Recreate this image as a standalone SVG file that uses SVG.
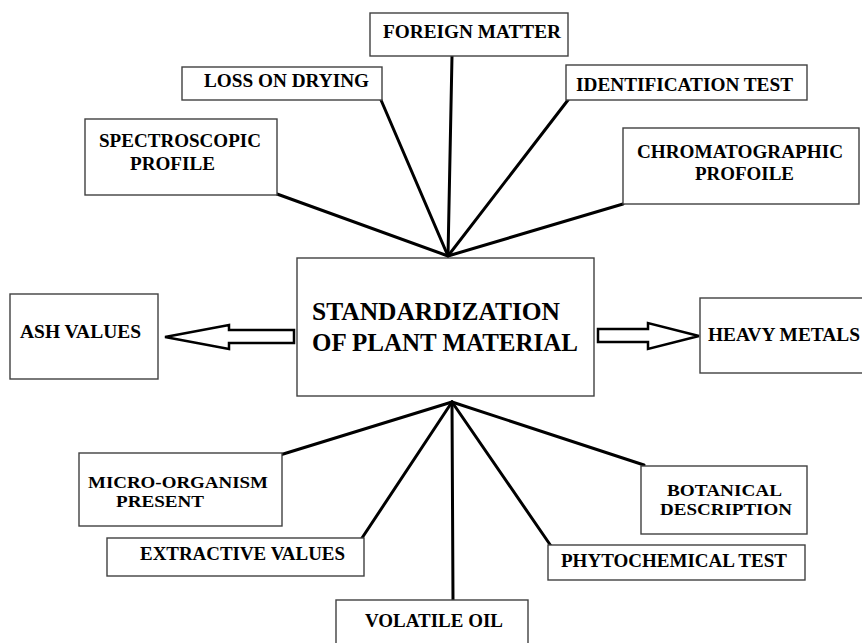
<svg xmlns="http://www.w3.org/2000/svg" width="862" height="643" viewBox="0 0 862 643">
<style>
.box{fill:#fff;stroke:#404040;stroke-width:1.4}
.t{font-family:"Liberation Serif","Times New Roman",serif;font-weight:bold;font-size:18.5px;fill:#000}
.s{font-size:17px}
.c{font-family:"Liberation Serif","Times New Roman",serif;font-weight:bold;font-size:25px;fill:#000}
.ln{stroke:#000;stroke-width:3;fill:none;stroke-linecap:round}
.ar{fill:#fff;stroke:#000;stroke-width:2.5;stroke-linejoin:miter}
</style>
<rect width="862" height="643" fill="#fff"/>
<g id="connectors">
<line class="ln" x1="452" y1="56" x2="448" y2="256"/>
<line class="ln" x1="381" y1="100" x2="448" y2="256"/>
<line class="ln" x1="277" y1="194" x2="448" y2="256"/>
<line class="ln" x1="568" y1="100" x2="448" y2="256"/>
<line class="ln" x1="623" y1="204" x2="448" y2="256"/>
<line class="ln" x1="280" y1="455" x2="452" y2="402"/>
<line class="ln" x1="362" y1="538" x2="452" y2="402"/>
<line class="ln" x1="453" y1="600" x2="452" y2="402"/>
<line class="ln" x1="551" y1="546" x2="452" y2="402"/>
<line class="ln" x1="644" y1="465" x2="452" y2="402"/>
<polygon class="ar" points="294,330 229,330 229,325 165,337 229,349 229,343 294,343"/>
<polygon class="ar" points="598,329 648,329 648,323 699,336 648,349 648,342 598,342"/>
</g>
<g id="center">
<rect class="box" x="297" y="258" width="297" height="138"/>
<text class="c" x="312" y="320" textLength="248" lengthAdjust="spacingAndGlyphs">STANDARDIZATION</text>
<text class="c" x="312" y="351" textLength="266" lengthAdjust="spacingAndGlyphs">OF PLANT MATERIAL</text>
</g>
<g id="foreign-matter">
<rect class="box" x="370" y="13" width="198" height="43"/>
<text class="t" x="383" y="38" textLength="178" lengthAdjust="spacingAndGlyphs">FOREIGN MATTER</text>
</g>
<g id="loss-on-drying">
<rect class="box" x="182" y="67" width="200" height="33"/>
<text class="t" x="204" y="87" textLength="165" lengthAdjust="spacingAndGlyphs">LOSS ON DRYING</text>
</g>
<g id="spectroscopic">
<rect class="box" x="85" y="119" width="192" height="76"/>
<text class="t" x="99" y="147" textLength="162" lengthAdjust="spacingAndGlyphs">SPECTROSCOPIC</text>
<text class="t" x="130" y="170" textLength="85" lengthAdjust="spacingAndGlyphs">PROFILE</text>
</g>
<g id="identification">
<rect class="box" x="566" y="65" width="241" height="35"/>
<text class="t" x="576" y="91" textLength="217" lengthAdjust="spacingAndGlyphs">IDENTIFICATION TEST</text>
</g>
<g id="chromatographic">
<rect class="box" x="623" y="128" width="236" height="76"/>
<text class="t" x="637" y="158" textLength="206" lengthAdjust="spacingAndGlyphs">CHROMATOGRAPHIC</text>
<text class="t" x="695" y="180" textLength="99" lengthAdjust="spacingAndGlyphs">PROFOILE</text>
</g>
<g id="ash-values">
<rect class="box" x="10" y="294" width="148" height="85"/>
<text class="t" x="20" y="338" textLength="121" lengthAdjust="spacingAndGlyphs">ASH VALUES</text>
</g>
<g id="heavy-metals">
<rect class="box" x="700" y="298" width="165" height="75"/>
<text class="t" x="708" y="341" textLength="152" lengthAdjust="spacingAndGlyphs">HEAVY METALS</text>
</g>
<g id="micro-organism">
<rect class="box" x="79" y="453" width="203" height="73"/>
<text class="t s" x="88" y="488" textLength="180" lengthAdjust="spacingAndGlyphs">MICRO-ORGANISM</text>
<text class="t s" x="116" y="507" textLength="88" lengthAdjust="spacingAndGlyphs">PRESENT</text>
</g>
<g id="extractive-values">
<rect class="box" x="107" y="538" width="257" height="38"/>
<text class="t" x="140" y="560" textLength="205" lengthAdjust="spacingAndGlyphs">EXTRACTIVE VALUES</text>
</g>
<g id="volatile-oil">
<rect class="box" x="336" y="600" width="192" height="50"/>
<text class="t" x="365" y="627" textLength="138" lengthAdjust="spacingAndGlyphs">VOLATILE OIL</text>
</g>
<g id="phytochemical">
<rect class="box" x="548" y="545" width="257" height="35"/>
<text class="t" x="561" y="567" textLength="226" lengthAdjust="spacingAndGlyphs">PHYTOCHEMICAL TEST</text>
</g>
<g id="botanical">
<rect class="box" x="641" y="466" width="166" height="68"/>
<text class="t s" x="667" y="496" textLength="115" lengthAdjust="spacingAndGlyphs">BOTANICAL</text>
<text class="t s" x="660" y="515" textLength="132" lengthAdjust="spacingAndGlyphs">DESCRIPTION</text>
</g>
</svg>
